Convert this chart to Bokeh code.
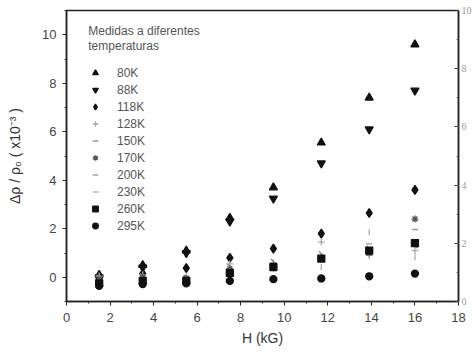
from bokeh.plotting import figure
from bokeh.models import Range1d, LinearAxis, Legend, LegendItem, Label, FixedTicker
from bokeh.embed import file_html
from bokeh.resources import INLINE

# ---- data ----
H = [1.5, 3.5, 5.5, 7.5, 9.5, 11.7, 13.9, 16.0]
temps = ["80K", "88K", "118K", "128K", "150K", "170K", "200K", "230K", "260K", "295K"]
r80 = [0.1, 0.5, 1.1, 2.45, 3.7, 5.55, 7.4, 9.6]
r88 = [0.0, 0.4, 1.0, 2.3, 3.25, 4.7, 6.1, 7.7]
r118 = [-0.05, 0.15, 0.38, 0.8, 1.18, 1.8, 2.65, 3.6]
r128 = [0.05, 0.1, 0.05, 0.55, 0.6, 1.45, 0.9, 1.1]
r150 = [0.0, 0.05, 0.0, 0.45, 0.65, 0.97, 1.2, 1.3]
r170 = [-0.1, 0.0, -0.05, 0.35, 0.5, 0.8, 1.0, 2.4]
r200 = [-0.15, -0.05, -0.1, 0.3, 0.45, 0.85, 1.38, 1.97]
r230 = [-0.2, -0.1, -0.15, 0.25, 0.35, 0.42, 1.86, 0.82]
r260 = [-0.25, -0.15, -0.15, 0.18, 0.42, 0.77, 1.1, 1.41]
r295 = [-0.35, -0.28, -0.25, -0.15, -0.08, -0.05, 0.04, 0.15]
series = [r80, r88, r118, r128, r150, r170, r200, r230, r260, r295]
x_ticks = [0, 2, 4, 6, 8, 10, 12, 14, 16, 18]
y_ticks = [0, 2, 4, 6, 8, 10]
right_ticks = [0, 2, 4, 6, 8, 10]

# ---- styles ----
markers = ["triangle", "inverted_triangle", "diamond", "cross", "dash",
           "asterisk", "dash", "dash", "square", "circle"]
angles = [0, 0, 0, 0, -45, 0, 0, 90, 0, 0]
colors = ["#111111", "#111111", "#111111", "#aaaaaa", "#888888",
          "#555555", "#999999", "#aaaaaa", "#111111", "#111111"]
sizes = [8, 8, 9, 7, 7, 7, 6, 6, 7, 7]

p = figure(width=474, height=354, output_backend="svg", toolbar_location=None,
           x_range=Range1d(0, 18), y_range=Range1d(-1, 11),
           min_border_left=66, min_border_right=16, min_border_top=10, min_border_bottom=53,
           background_fill_color="white", border_fill_color="white")
p.grid.visible = False
p.outline_line_color = "#222222"
p.outline_line_width = 1.5
p.extra_y_ranges = {"right": Range1d(0, 10)}

tick_color = "#444444"
for ax in (p.xaxis[0], p.yaxis[0]):
    ax.axis_line_color = "#222222"
    ax.axis_line_width = 1.5
    ax.major_tick_line_color = "#222222"
    ax.minor_tick_line_color = "#222222"
    ax.major_tick_out = 4
    ax.major_tick_in = 0
    ax.minor_tick_out = 2
    ax.minor_tick_in = 0
    ax.major_label_text_font = "Liberation Sans"
    ax.major_label_text_font_size = "13px"
    ax.major_label_text_color = tick_color
    ax.axis_label_text_font = "Liberation Sans"
    ax.axis_label_text_font_style = "normal"
    ax.axis_label_text_color = "#333333"
    ax.axis_label_text_font_size = "14px"

p.xaxis[0].ticker = FixedTicker(ticks=x_ticks, minor_ticks=list(range(0, 19)))
p.yaxis[0].ticker = FixedTicker(ticks=y_ticks, minor_ticks=list(range(-1, 12)))
p.xaxis[0].major_label_standoff = 7
p.xaxis[0].axis_label = "H (kG)"
p.xaxis[0].axis_label_standoff = 5
p.yaxis[0].axis_label = "Δρ / ρ₀ ( x10⁻³ )"
p.yaxis[0].axis_label_standoff = 16
p.yaxis[0].major_label_standoff = 6

rax = LinearAxis(y_range_name="right",
                 ticker=FixedTicker(ticks=right_ticks, minor_ticks=list(range(0, 11))),
                 axis_line_color="#222222", axis_line_width=1.5,
                 major_tick_in=4, major_tick_out=0, minor_tick_in=2, minor_tick_out=0,
                 major_tick_line_color="#333333", minor_tick_line_color="#555555",
                 major_label_text_font="Liberation Serif",
                 major_label_text_font_size="10px",
                 major_label_text_color="#999999",
                 major_label_standoff=3)
p.add_layout(rax, "right")

items = []
for name, vals, m, a, c, s in zip(temps, series, markers, angles, colors, sizes):
    r = p.scatter(H, vals, marker=m, size=s, angle=a, angle_units="deg",
                  fill_color=c, line_color=c, line_width=1.3)
    items.append(LegendItem(label=name, renderers=[r]))

legend = Legend(items=items, location=(22, 68), padding=0, margin=0,
                border_line_color=None, background_fill_alpha=0,
                glyph_width=14, glyph_height=15, label_height=15, spacing=2,
                label_standoff=15,
                label_text_font="Liberation Sans", label_text_font_size="12px",
                label_text_color="#555555")
p.add_layout(legend, "center")

for txt, yy in (("Medidas a diferentes", 10.16), ("temperaturas", 9.55)):
    p.add_layout(Label(x=1.0, y=yy, text=txt, text_font="Liberation Sans",
                       text_font_size="12px", text_color="#555555",
                       text_baseline="middle"))

open("out.html", "w").write(file_html(p, INLINE))
